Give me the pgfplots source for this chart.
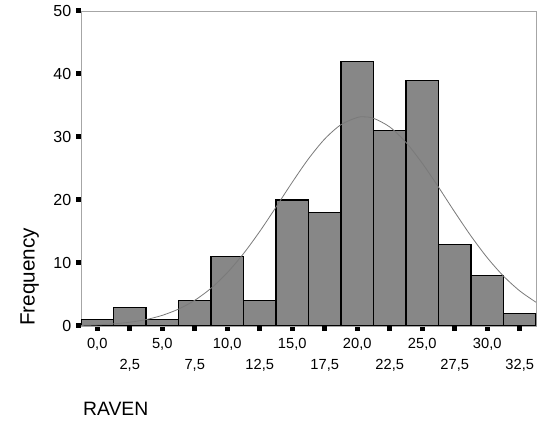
\documentclass[border=0pt]{standalone}
\usepackage{fontspec}
\setmainfont{Liberation Sans}
\usepackage{pgfplots}
\pgfplotsset{compat=1.18}
\definecolor{barfill}{HTML}{878787}
\definecolor{curvegray}{HTML}{7A7A7A}

% histogram counts, bin centres 0, 2.5, ..., 32.5
\pgfplotstableread{
x    n
0    1
2.5  3
5    1
7.5  4
10   11
12.5 4
15   20
17.5 18
20   42
22.5 31
25   39
27.5 13
30   8
32.5 2
}\hist

\begin{document}
\begin{tikzpicture}
\begin{axis}[
  scale only axis, width=341.25pt, height=236.25pt,
  xmin=-1.25, xmax=33.75, ymin=0, ymax=50,
  ytick={0,10,...,50}, xtick={0,5,...,30},
  extra x ticks={2.5,7.5,...,32.5},
  extra x tick style={tick label style={yshift=-16pt}},
  /pgf/number format/assume math mode=true,
  xticklabel style={font=\fontsize{11}{12}\selectfont, yshift=-2pt,
    /pgf/number format/.cd, fixed, fixed zerofill, precision=1, use comma},
  yticklabel style={font=\fontsize{12}{13}\selectfont},
  tick align=outside, major tick length=3.75pt,
  tick style={black, line width=3.75pt},
  xtick pos=bottom, ytick pos=left,
  axis line style={gray!70, line width=0.6pt},
  xlabel={RAVEN}, ylabel={Frequency},
  label style={font=\fontsize{14.5}{16}\selectfont},
  xlabel style={at={(axis description cs:0.004,-0.2857)}, anchor=base west, inner sep=0pt},
  ylabel style={at={(axis description cs:-0.092,0)}, anchor=south west, inner sep=0pt,
    font=\fontsize{15.5}{17}\selectfont},
]
\addplot[ybar, bar width=2.5, bar shift=0pt, fill=barfill, draw=black, line width=0.8pt]
  table[x=x, y=n] {\hist};
\addplot[smooth, curvegray, line width=0.6pt] coordinates {
  (-1.25,0.09) (0,0.18) (1.25,0.34) (2.5,0.60) (3.75,1.02) (5,1.69)
  (6.25,2.68) (7.5,4.08) (8.75,5.99) (10,8.46) (11.25,11.49) (12.5,15.01)
  (13.75,18.87) (15,22.82) (16.25,26.54) (17.5,29.69) (18.75,31.96)
  (20,33.10) (20.5,33.2) (21.25,32.97) (22.5,31.59) (23.75,29.13)
  (25,25.83) (26.25,22.04) (27.5,18.08) (28.75,14.28) (30,10.84)
  (31.25,7.92) (32.5,5.57) (33.75,3.77)
};
\end{axis}
\pgfresetboundingbox
\path ([xshift=-60.75pt,yshift=-72pt]current axis.south west)
  rectangle ([xshift=0.75pt,yshift=8.25pt]current axis.north east);
\end{tikzpicture}
\end{document}
